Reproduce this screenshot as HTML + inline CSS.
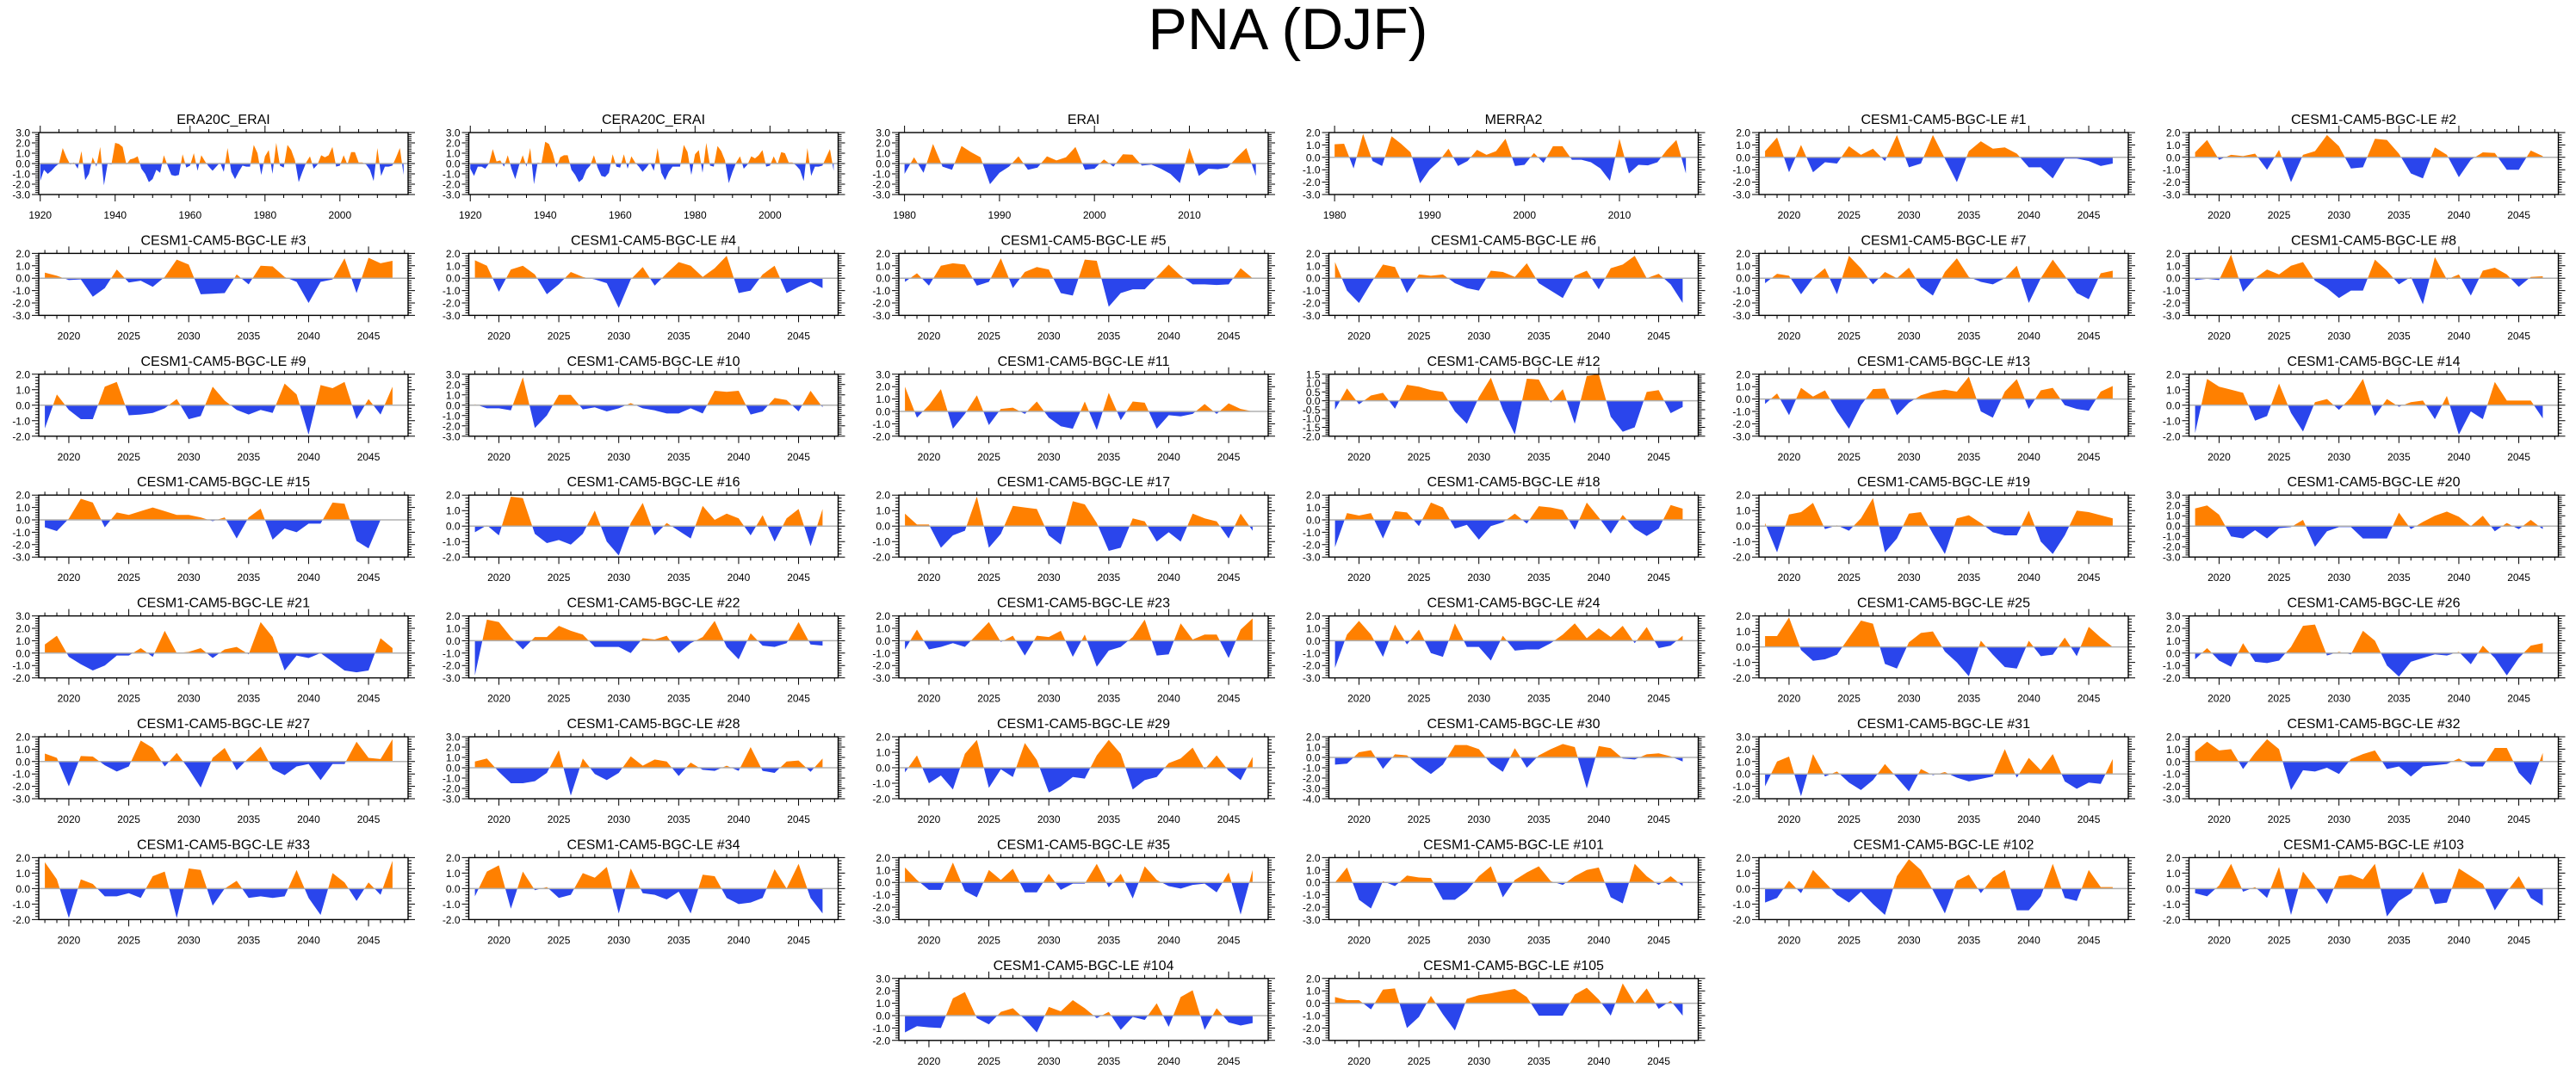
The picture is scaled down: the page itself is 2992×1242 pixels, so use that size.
<!DOCTYPE html>
<html><head><meta charset="utf-8"><title>PNA (DJF)</title>
<style>
html,body{margin:0;padding:0;background:#fff;}
svg{display:block;font-family:"Liberation Sans",Arial,sans-serif;}
</style></head>
<body>
<svg id="fig" width="2992" height="1242" viewBox="0 0 2992 1242" xmlns="http://www.w3.org/2000/svg">
<rect width="2992" height="1242" fill="#fff"/>
<text x="1496" y="57" font-size="68" text-anchor="middle" fill="#000">PNA (DJF)</text>
</svg>
<script>
// ---- data arrays ----
const v_era20c = [-1.7,-0.6,-1.0,-0.7,-0.3,0.0,1.5,0.6,-0.1,0.1,-0.5,1.2,-1.6,-1.0,0.6,-0.3,1.6,-2.1,0.0,-0.1,2.0,1.9,1.6,-0.1,0.4,0.5,0.7,-0.5,-1.0,-1.8,-1.5,-0.6,-0.9,0.8,-0.2,-1.1,-1.2,-1.1,0.9,-0.4,-0.2,1.0,-0.7,0.8,0.2,-0.3,-0.7,-0.3,0.1,-0.8,1.5,-0.8,-1.5,-0.8,-0.2,-0.3,-0.3,1.8,1.0,-1.1,0.7,1.3,-1.0,2.0,-0.2,-0.4,1.8,1.3,0.3,-1.8,-0.8,0.1,0.7,-0.5,-0.1,0.8,0.6,0.8,1.6,-0.3,-0.2,0.8,-0.1,1.1,1.1,0.1,0.1,-0.1,-0.6,-1.7,1.5,-1.2,-0.3,-0.3,-0.2,0.6,1.5,-1.1];
const v_cera20c = [-0.5,-1.2,-0.3,-0.3,-0.5,0.0,1.4,0.2,0.3,-0.3,0.8,-0.5,-1.5,-0.2,0.8,-0.3,1.5,-2.0,0.1,0.0,2.1,1.9,1.0,-0.4,0.6,0.8,0.8,-0.6,-1.1,-1.8,-1.5,-0.6,-0.2,0.8,-0.4,-1.2,-1.3,-0.9,0.9,-0.3,-0.4,0.9,-0.5,0.7,0.1,-0.3,-0.8,-0.4,0.1,-0.7,1.5,-0.9,-1.6,-0.8,-0.3,-0.3,-0.3,1.8,1.1,-1.1,0.9,1.3,-0.9,2.0,-0.2,-0.3,1.7,1.2,0.3,-1.9,-0.8,0.1,0.7,-0.5,-0.1,0.7,0.5,0.8,1.3,-0.3,-0.2,0.7,-0.1,1.1,1.0,0.1,0.1,-0.2,-0.6,-1.7,1.5,-1.2,-0.3,-0.3,-0.2,0.6,1.4,-0.7];
const v_erai = [-1.0,0.6,-0.9,1.9,-0.3,-0.6,1.7,1.1,0.6,-2.0,-0.9,-0.3,0.7,-0.6,-0.4,0.7,0.3,0.6,1.6,-0.6,-0.5,0.4,-0.3,0.9,0.85,-0.2,-0.1,-0.5,-1.0,-1.9,1.5,-1.2,-0.5,-0.55,-0.4,0.6,1.5,-1.2];
const v_merra2 = [1.05,1.1,-0.9,1.9,-0.3,-0.7,1.7,1.1,0.4,-2.1,-1.0,-0.3,0.7,-0.7,-0.3,0.6,0.2,0.5,1.5,-0.7,-0.6,0.35,-0.45,0.9,0.9,-0.2,-0.2,-0.4,-0.9,-1.9,1.5,-1.3,-0.6,-0.65,-0.4,0.6,1.4,-1.3];
const v_m1 = [0.5,1.6,-1.2,1.0,-1.2,-0.4,-0.5,0.9,0.2,0.7,-0.3,1.8,-0.8,-0.5,1.8,-0.1,-2.0,0.5,1.3,0.7,0.8,0.3,-0.8,-0.8,-1.7,-0.1,-0.1,-0.3,-0.7,-0.5];
const v_m2 = [0.4,1.4,-0.2,0.2,0.1,0.3,-1.0,0.6,-2.0,0.2,0.5,1.8,0.9,-0.9,-0.8,1.5,1.4,0.3,-1.3,-1.7,0.8,0.2,-1.6,-0.2,0.4,0.35,-1.0,-1.0,0.55,0.1];
const v_m3 = [0.45,0.2,-0.15,-0.1,-1.5,-0.8,0.7,-0.35,-0.2,-0.7,0.1,1.5,1.1,-1.3,-1.25,-1.2,0.3,-0.5,1.0,0.95,0.1,-0.3,-2.0,-0.3,-0.1,1.6,-1.2,1.65,1.2,1.4];
const v_m4 = [1.45,1.0,-1.1,0.7,1.0,0.3,-1.3,-0.5,0.5,0.1,-0.1,-0.4,-2.4,-0.1,0.9,-0.6,0.4,1.3,1.0,0.1,0.8,1.8,-1.2,-1.0,0.3,1.0,-1.2,-0.7,-0.3,-0.8];
const v_m5 = [-0.3,0.4,-0.6,1.0,1.2,1.1,-0.6,-0.3,1.6,-0.8,0.5,0.9,0.7,-1.2,-1.4,1.5,1.4,-2.3,-1.2,-0.9,-0.9,0.1,1.1,0.2,-0.5,-0.5,-0.55,-0.5,0.8,0.0];
const v_m6 = [1.3,-1.0,-2.0,-0.4,1.1,0.9,-1.2,0.3,0.2,0.3,-0.4,-0.8,-1.0,0.6,0.5,0.1,1.2,-0.4,-1.0,-1.6,0.2,0.6,-0.9,0.8,1.1,1.8,0.0,0.35,-0.5,-2.0];
const v_m7 = [-0.4,0.35,0.2,-1.3,0.0,0.8,-1.3,1.8,0.8,-0.5,0.5,0.0,0.85,-0.7,-1.4,0.5,1.6,0.1,-0.3,-0.5,0.0,1.0,-2.0,0.0,1.5,0.2,-1.2,-1.7,0.4,0.6];
const v_m8 = [-0.15,-0.05,-0.15,1.9,-1.1,0.0,0.7,0.3,1.0,1.3,-0.2,-0.8,-1.6,-1.0,-1.0,1.5,0.6,-0.5,0.1,-2.1,1.7,-0.1,0.3,-1.4,0.6,0.85,0.3,-0.7,0.1,0.15];
const v_m9 = [-1.5,0.7,-0.3,-0.9,-0.9,1.2,1.5,-0.65,-0.6,-0.5,-0.2,0.4,-0.9,-0.7,1.2,0.3,-0.3,-0.6,-0.3,-0.5,1.4,0.7,-1.9,1.3,1.1,1.5,-0.9,0.4,-0.6,1.2];
const v_m10 = [0.1,-0.3,-0.3,-0.5,2.7,-2.2,-1.0,1.0,1.0,-0.4,-0.2,-0.6,-0.3,0.2,-0.3,-0.5,-0.8,-0.8,-0.3,-0.8,1.4,1.3,1.4,-0.9,-0.6,0.7,0.5,-0.6,1.4,-0.2];
const v_m11 = [2.0,-0.5,0.5,1.8,-1.4,-0.2,1.3,-1.1,0.2,0.3,-0.2,0.8,-0.5,-1.2,-1.4,0.8,-1.5,1.5,-0.7,0.8,0.7,-1.4,-0.3,-0.4,-0.2,0.6,-0.2,0.65,0.2,0.0];
const v_m12 = [-0.5,0.7,-0.2,0.3,0.45,-0.45,0.9,0.8,0.6,0.5,-0.6,-1.3,0.2,1.3,-0.5,-1.9,1.25,1.2,-0.1,0.65,-1.3,1.4,1.5,-0.9,-1.75,-1.5,0.5,0.6,-0.7,-0.35];
const v_m13 = [-0.4,0.45,-1.3,0.9,0.2,0.7,-1.0,-2.4,-0.5,0.8,0.85,-1.3,-0.3,0.3,0.6,0.75,0.6,1.8,-1.0,-1.5,0.6,1.6,-0.8,0.7,0.9,-0.5,-0.8,-0.95,0.6,1.05];
const v_m14 = [-1.8,1.7,1.2,1.0,0.8,-1.0,-0.7,1.4,-0.5,-1.7,0.2,0.4,-0.3,0.5,1.7,-0.7,0.4,-0.1,0.2,0.3,-0.9,0.6,-1.9,-0.4,-0.9,1.5,0.3,0.3,0.3,-0.85];
const v_m15 = [-0.6,-0.9,0.1,1.7,1.4,-0.6,0.6,0.4,0.7,1.0,0.7,0.4,0.4,0.2,-0.1,0.2,-1.5,0.2,0.9,-1.6,-0.7,-1.0,-0.3,-0.3,1.4,1.3,-1.7,-2.3,0.0,0.0];
const v_m16 = [-0.4,0.05,-0.6,1.9,1.8,-0.5,-1.1,-0.9,-1.2,-0.5,1.0,-1.0,-1.9,0.2,1.5,-0.6,0.2,-0.3,-0.8,1.3,0.4,0.8,0.5,-0.6,0.7,-1.0,0.5,1.1,-1.3,1.1];
const v_m17 = [0.8,0.1,0.1,-1.4,-0.6,-0.3,1.9,-1.4,-0.5,1.3,1.2,1.1,-0.6,-1.2,1.6,1.4,0.2,-1.6,-1.4,0.5,0.3,-1.0,-0.4,-1.0,0.8,0.5,0.3,-0.8,0.8,-0.3];
const v_m18 = [-2.2,0.55,0.35,0.55,-1.5,0.7,0.6,-0.5,1.4,1.0,-0.7,-0.4,-1.6,-0.5,-0.2,0.5,-0.3,1.1,1.0,0.8,-0.8,1.4,0.2,-1.1,0.4,-0.7,-1.3,-0.7,1.2,0.9];
const v_m19 = [0.2,-1.7,0.75,0.9,1.5,-0.2,0.05,-0.3,0.5,1.8,-1.7,-0.8,0.8,0.9,-0.5,-1.8,0.5,0.7,0.2,-0.4,-0.6,-0.6,1.0,-1.0,-1.8,-0.6,1.0,0.9,0.7,0.5];
const v_m20 = [1.7,2.0,1.1,-1.0,-1.2,-0.4,-1.2,-0.2,-0.1,0.6,-2.0,-0.5,-0.1,-0.1,-1.2,-1.2,-1.2,1.3,-0.3,0.4,1.0,1.4,0.9,0.0,1.0,-0.5,0.3,-0.3,0.6,-0.3];
const v_m21 = [0.7,1.4,-0.3,-0.9,-1.4,-1.0,-0.2,-0.2,0.4,-0.3,1.8,0.0,0.1,0.4,-0.4,0.3,0.5,-0.1,2.5,1.3,-1.4,-0.2,-0.4,0.0,-0.7,-1.4,-1.55,-1.4,1.2,0.4];
const v_m22 = [-2.8,1.7,1.5,0.3,-0.7,0.3,0.3,1.2,0.8,0.5,-0.5,-0.5,-0.5,-1.0,0.2,0.1,0.4,-1.0,-0.2,0.3,1.6,-0.5,-1.5,0.6,-0.4,-0.5,-0.2,1.5,-0.3,-0.4];
const v_m23 = [-0.7,0.9,-0.7,-0.5,-0.2,-0.5,0.5,1.5,-0.1,0.4,-1.2,0.4,0.3,0.8,-1.3,0.5,-2.1,-0.8,-0.5,0.3,1.7,-1.2,-1.1,1.4,0.1,0.5,0.5,-1.4,0.9,1.8];
const v_m24 = [-2.2,0.5,1.6,0.5,-1.3,1.3,-0.3,0.9,-1.0,-1.3,1.4,-0.5,-0.5,-1.6,0.4,-0.8,-0.7,-0.7,-0.2,0.5,1.4,0.2,1.0,0.3,1.2,-0.2,1.1,-0.6,-0.4,0.4];
const v_m25 = [0.7,0.7,1.9,-0.2,-0.9,-0.8,-0.5,0.6,1.7,1.5,-1.1,-1.4,0.3,0.9,1.0,-0.3,-1.0,-1.9,0.4,-0.5,-1.3,-1.4,0.4,-0.6,-0.5,0.6,-0.6,1.3,0.6,0.0];
const v_m26 = [-0.5,0.4,-0.6,-1.1,0.8,-0.7,-0.8,-0.6,0.5,2.2,2.3,-0.2,0.1,-0.1,1.8,1.0,-1.0,-1.9,-0.7,-0.4,-0.1,-0.2,0.1,-0.9,0.6,-0.4,-1.8,-0.4,0.6,0.8];
const v_m27 = [0.65,0.3,-2.0,0.45,0.4,-0.3,-0.8,-0.4,1.7,1.1,-0.4,0.7,-0.6,-2.1,0.3,1.1,-0.7,0.3,1.2,-0.6,-1.1,-0.4,-0.2,-1.5,-0.2,-0.2,1.6,0.3,0.2,1.8];
const v_m28 = [0.6,0.9,-0.4,-1.5,-1.5,-1.3,-0.5,1.7,-2.7,0.9,-0.6,-1.2,-0.5,1.1,0.2,0.8,0.6,-0.8,0.5,-0.2,-0.3,0.2,-0.3,2.0,-0.3,-0.5,0.6,0.7,-0.4,0.9];
const v_m29 = [-0.3,0.8,-1.0,-0.5,-1.4,0.9,1.8,-1.3,-0.1,-0.6,1.6,0.5,-1.6,-1.2,-0.6,-0.7,0.8,1.8,0.9,-1.4,-0.8,-0.6,0.3,0.6,1.3,-0.1,0.8,-0.2,-0.8,0.7];
const v_m30 = [-0.7,-0.6,0.5,0.7,-1.1,0.3,0.2,-0.8,-1.6,-0.7,1.2,1.2,0.8,-0.6,-1.4,0.9,-1.0,0.2,0.8,1.3,1.0,-3.0,1.1,0.9,-0.1,-0.2,0.3,0.4,0.1,-0.4];
const v_m31 = [-1.0,1.0,1.4,-1.8,1.6,-0.2,0.2,-0.7,-1.3,-0.5,0.8,-0.3,-1.4,0.4,-0.1,0.15,-0.3,-0.6,-0.4,-0.2,2.0,-0.3,1.3,0.3,1.6,-0.6,-1.2,-0.7,-0.8,1.2];
const v_m32 = [0.8,1.6,0.9,1.0,-0.6,0.7,1.8,1.0,-2.3,-0.7,-0.8,-0.5,-1.0,0.2,0.6,0.9,-0.6,-0.4,-1.2,-0.4,-0.3,-0.2,0.25,-0.4,-0.4,1.1,1.1,-0.9,-1.9,0.7];
const v_m33 = [1.7,0.6,-1.9,0.6,0.3,-0.5,-0.5,-0.3,-0.6,0.8,1.1,-1.9,1.3,1.2,-1.1,0.0,0.5,-0.6,-0.5,-0.6,-0.5,1.2,-0.6,-1.7,1.0,0.4,-0.8,0.4,-0.4,1.8];
const v_m34 = [-0.5,1.1,1.5,-1.3,1.1,-0.1,0.1,-0.6,-0.4,1.0,0.7,1.4,-1.6,1.3,-0.3,-0.4,-0.7,-0.2,-1.6,0.9,0.8,-0.6,-1.0,-0.9,-0.6,1.25,0.0,1.6,-0.6,-1.6];
const v_m35 = [1.2,0.2,-0.6,-0.6,1.6,-0.7,-1.2,1.0,0.2,1.1,-0.8,-0.8,0.7,-0.6,-0.1,-0.1,1.5,-0.4,0.7,-1.3,1.3,0.2,-0.3,-0.5,-0.2,-0.1,-0.8,0.8,-2.6,1.0];
const v_m101 = [0.0,1.2,-1.4,-2.1,0.1,-0.3,0.55,0.4,0.35,-1.4,-1.4,-0.7,0.5,1.3,-1.2,0.2,0.8,1.3,0.1,-0.2,0.5,1.0,1.2,-1.2,-1.7,1.5,0.5,-0.2,0.5,-0.3];
const v_m102 = [-0.9,-0.6,0.5,-0.3,1.2,0.4,-0.4,-0.9,-0.2,-1.0,-1.7,0.8,1.9,1.2,-0.1,-1.6,0.5,0.9,-0.3,0.7,1.2,-1.4,-1.4,-0.5,1.6,-0.6,-0.8,1.2,0.1,0.1];
const v_m103 = [-0.3,-0.5,0.2,1.6,-0.2,0.1,-0.6,1.4,-1.7,1.1,0.1,-1.0,0.8,0.9,0.6,1.6,-1.8,-0.8,-0.3,1.1,-1.0,-0.9,1.3,0.8,0.3,-1.4,-0.2,0.8,-0.6,-1.1];
const v_m104 = [-1.35,-0.85,-0.95,-1.0,1.4,1.9,-0.2,-0.7,0.3,0.6,-0.3,-1.35,0.7,0.35,1.25,0.6,-0.2,0.3,-1.15,-0.1,-0.35,1.0,-0.9,1.5,2.05,-1.15,0.6,-0.55,-0.8,-0.6];
const v_m105 = [0.5,0.25,0.25,-0.5,1.1,1.2,-2.0,-1.1,0.6,-0.9,-2.2,0.35,0.65,0.8,1.0,1.15,0.5,-1.0,-1.0,-1.0,0.7,1.25,0.3,-1.0,1.6,0.0,1.2,-0.45,0.2,-1.0];

// panel titles and y ranges
const panelTitles = ["ERA20C_ERAI","CERA20C_ERAI","ERAI","MERRA2",
 "CESM1-CAM5-BGC-LE #1","CESM1-CAM5-BGC-LE #2","CESM1-CAM5-BGC-LE #3","CESM1-CAM5-BGC-LE #4","CESM1-CAM5-BGC-LE #5","CESM1-CAM5-BGC-LE #6","CESM1-CAM5-BGC-LE #7","CESM1-CAM5-BGC-LE #8","CESM1-CAM5-BGC-LE #9","CESM1-CAM5-BGC-LE #10","CESM1-CAM5-BGC-LE #11","CESM1-CAM5-BGC-LE #12","CESM1-CAM5-BGC-LE #13","CESM1-CAM5-BGC-LE #14","CESM1-CAM5-BGC-LE #15","CESM1-CAM5-BGC-LE #16","CESM1-CAM5-BGC-LE #17","CESM1-CAM5-BGC-LE #18","CESM1-CAM5-BGC-LE #19","CESM1-CAM5-BGC-LE #20","CESM1-CAM5-BGC-LE #21","CESM1-CAM5-BGC-LE #22","CESM1-CAM5-BGC-LE #23","CESM1-CAM5-BGC-LE #24","CESM1-CAM5-BGC-LE #25","CESM1-CAM5-BGC-LE #26","CESM1-CAM5-BGC-LE #27","CESM1-CAM5-BGC-LE #28","CESM1-CAM5-BGC-LE #29","CESM1-CAM5-BGC-LE #30","CESM1-CAM5-BGC-LE #31","CESM1-CAM5-BGC-LE #32","CESM1-CAM5-BGC-LE #33","CESM1-CAM5-BGC-LE #34","CESM1-CAM5-BGC-LE #35","CESM1-CAM5-BGC-LE #101","CESM1-CAM5-BGC-LE #102","CESM1-CAM5-BGC-LE #103","CESM1-CAM5-BGC-LE #104","CESM1-CAM5-BGC-LE #105"];
const panelValues = [v_era20c,v_cera20c,v_erai,v_merra2,v_m1,v_m2,v_m3,v_m4,v_m5,v_m6,v_m7,v_m8,v_m9,v_m10,v_m11,v_m12,v_m13,v_m14,v_m15,v_m16,v_m17,v_m18,v_m19,v_m20,v_m21,v_m22,v_m23,v_m24,v_m25,v_m26,v_m27,v_m28,v_m29,v_m30,v_m31,v_m32,v_m33,v_m34,v_m35,v_m101,v_m102,v_m103,v_m104,v_m105];
const yMins = [-3,-3,-3,-3,-3,-3,-3,-3,-3,-3,-3,-3,-2,-3,-2,-2,-3,-2,-3,-2,-2,-3,-2,-3,-2,-3,-3,-3,-2,-2,-3,-3,-2,-4,-2,-3,-2,-2,-3,-3,-2,-2,-2,-3];
const yMaxs = [3,3,3,2,2,2,2,2,2,2,2,2,2,3,3,1.5,2,2,2,2,2,2,2,3,3,2,2,2,2,3,2,3,2,2,3,2,2,2,2,2,2,2,3,2];
const startYears = [1920,1920,1980,1980];
const cesmStart = 2018;

const NS = "http://www.w3.org/2000/svg";
const svg = document.getElementById('fig');
function mk(tag, attrs, parent){ const e=document.createElementNS(NS,tag); for(const k in attrs) e.setAttribute(k,attrs[k]); (parent||svg).appendChild(e); return e; }

const PW = 429, PH = 72;
function slotFor(i){ if(i<42) return {r:Math.floor(i/6), c:i%6}; return {r:7, c:i-40}; }

panelValues.forEach((vals, i) => {
  const slot = slotFor(i);
  const L = 45 + slot.c*499.5, T = 154 + slot.r*140.4;
  const kind = i<2 ? 'long' : (i<4 ? 'sat' : 'cesm');
  const xr = kind==='long' ? [1919.6,2018.2] : kind==='sat' ? [1979.4,2018.3] : [2017.49,2048.3];
  const x0 = kind==='long' ? startYears[i] : kind==='sat' ? startYears[i] : cesmStart;
  const ymin = yMins[i], ymax = yMaxs[i];
  const xs = y => L + (y - xr[0])/(xr[1]-xr[0])*PW;
  const ys = v => T + (ymax - v)/(ymax - ymin)*PH;

  const g = mk('g', {});
  
  

  const t = mk('text', {x:L+PW/2, y:T-10, 'font-size':16, 'text-anchor':'middle', fill:'#000'}, g);
  
  
  t.textContent = panelTitles[i];

  // area fills
  const z = ys(0);
  let pts = vals.map((v,k)=> xs(x0+k).toFixed(2)+','+ys(v).toFixed(2));
  const poly = xs(x0).toFixed(2)+','+z+' '+pts.join(' ')+' '+xs(x0+vals.length-1).toFixed(2)+','+z;
  const cid = 'c'+i;
  const defs = mk('defs', {}, g);
  const cp1 = mk('clipPath', {id:cid+'p'}, defs); mk('rect', {x:L, y:T, width:PW, height:z-T}, cp1);
  const cp2 = mk('clipPath', {id:cid+'n'}, defs); mk('rect', {x:L, y:z, width:PW, height:T+PH-z}, cp2);
  const pos = mk('polygon', {points:poly, fill:'#ff8000', 'clip-path':'url(#'+cid+'p)'}, g);
  
  
  const neg = mk('polygon', {points:poly, fill:'#2a45ec', 'clip-path':'url(#'+cid+'n)'}, g);
  
  
  const zl = mk('line', {x1:L, x2:L+PW, y1:z, y2:z, stroke:'#b0b0b0', 'stroke-width':1.5}, g);
  
  

  // frame
  const fr = mk('rect', {x:L, y:T, width:PW, height:PH, fill:'none', stroke:'#000', 'stroke-width':1.4}, g);
  
  

  // x ticks
  const major = kind==='long'?20:kind==='sat'?10:5;
  const minor = kind==='long'?5:kind==='sat'?2:1;
  let tk = '';
  for(let y=Math.ceil(xr[0]); y<=xr[1]; y++){
    if(y % minor !== 0) continue;
    const X = xs(y).toFixed(2);
    const len = (y % major === 0) ? 8 : 4;
    tk += `M${X},${T}v${-len}M${X},${T+PH}v${len}`;
    if(y % major === 0){
      const lb = mk('text', {x:X, y:T+PH+28, 'font-size':12, 'text-anchor':'middle', fill:'#000'}, g);
      
      
      lb.textContent = y;
    }
  }
  // y ticks
  const ymaj = (ymax===1.5) ? 0.5 : 1.0;
  const ymin_s = ymaj/5;
  const nMin = Math.round((ymax-ymin)/ymin_s);
  for(let k=0;k<=nMin;k++){
    const v = ymin + k*ymin_s;
    const Y = ys(v).toFixed(2);
    const isMaj = (k % 5 === 0);
    const len = isMaj ? 8 : 4;
    tk += `M${L},${Y}h${-len}M${L+PW},${Y}h${len}`;
    if(isMaj){
      const lb = mk('text', {x:L-10, y:(+Y)+4.5, 'font-size':12, 'text-anchor':'end', fill:'#000'}, g);
      
      
      lb.textContent = v.toFixed(1);
    }
  }
  const tp = mk('path', {d:tk, stroke:'#000', 'stroke-width':1, fill:'none'}, g);
  
  
});
</script>
</body></html>
